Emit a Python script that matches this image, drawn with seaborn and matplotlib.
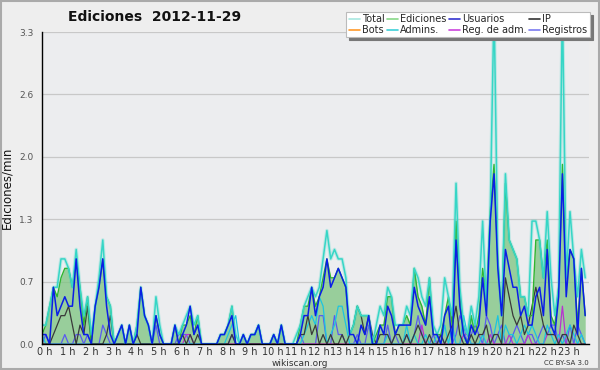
import numpy as np
import pandas as pd
import matplotlib
matplotlib.use("Agg")
import matplotlib.pyplot as plt
import matplotlib.transforms as mtransforms
from matplotlib.lines import Line2D
import seaborn as sns

# Ediciones por intervalo de 10 minutos (144 intervalos, 2012-11-29)
total_10min = [
    2, 2, 4, 6, 6, 9,   9, 8, 6, 10, 6, 3,   5, 1, 4, 7, 11, 5,   4, 0, 1, 2, 0, 2,
    0, 2, 6, 3, 2, 0,   5, 2, 0, 0, 0, 2,   1, 2, 3, 4, 2, 3,   0, 0, 0, 0, 0, 1,
    1, 2, 4, 1, 0, 1,   0, 1, 1, 2, 0, 0,   0, 1, 0, 2, 0, 0,   0, 1, 2, 4, 5, 6,
    5, 6, 9, 12, 9, 10,  9, 9, 7, 1, 2, 4,   3, 3, 3, 0, 2, 4,   3, 6, 5, 2, 2, 2,
    4, 3, 8, 7, 5, 4,   7, 2, 1, 2, 7, 5,   3, 17, 6, 2, 1, 4,   2, 5, 13, 4, 14, 36,
    9, 3, 18, 11, 10, 9,  5, 5, 3, 13, 13, 11,  7, 14, 7, 3, 6, 36,  7, 14, 9, 5, 10, 7,
]
ediciones_10min = [
    1, 2, 4, 6, 5, 7,   8, 8, 6, 9, 6, 2,   5, 0, 4, 6, 9, 5,   4, 0, 1, 2, 0, 2,
    0, 2, 6, 3, 2, 0,   3, 1, 0, 0, 0, 2,   0, 2, 2, 3, 1, 3,   0, 0, 0, 0, 0, 1,
    1, 2, 4, 0, 0, 1,   0, 1, 1, 2, 0, 0,   0, 1, 0, 2, 0, 0,   0, 0, 2, 4, 4, 6,
    4, 5, 7, 9, 7, 7,   8, 7, 6, 1, 2, 4,   3, 3, 3, 0, 1, 2,   2, 5, 5, 1, 2, 2,
    3, 2, 8, 5, 4, 2,   7, 1, 1, 1, 3, 5,   2, 13, 5, 1, 0, 3,   1, 3, 8, 5, 14, 19,
    9, 3, 17, 11, 10, 9,  5, 5, 3, 3, 11, 11,  7, 11, 3, 2, 6, 19,  7, 10, 9, 2, 8, 3,
]
usuarios_10min = [
    1, 1, 0, 6, 3, 4,   5, 4, 4, 9, 4, 1,   1, 0, 4, 6, 9, 4,   1, 0, 1, 2, 0, 2,
    0, 1, 6, 3, 2, 0,   3, 1, 0, 0, 0, 2,   0, 1, 2, 4, 1, 2,   0, 0, 0, 0, 0, 1,
    1, 2, 3, 0, 0, 1,   0, 1, 1, 2, 0, 0,   0, 1, 0, 2, 0, 0,   0, 0, 1, 3, 3, 6,
    3, 5, 6, 9, 6, 7,   8, 7, 6, 1, 1, 0,   2, 1, 3, 0, 0, 2,   1, 4, 3, 1, 2, 2,
    2, 2, 6, 4, 3, 2,   5, 1, 1, 0, 3, 4,   0, 11, 4, 1, 0, 2,   1, 2, 7, 3, 13, 18,
    8, 3, 10, 8, 6, 6,  3, 4, 2, 2, 5, 6,   3, 10, 2, 1, 5, 18,  5, 10, 9, 1, 8, 3,
]
ip_10min = [
    0, 0, 0, 1, 2, 3,   3, 4, 2, 0, 2, 1,   4, 0, 0, 0, 0, 1,   3, 0, 0, 0, 0, 0,
    0, 1, 0, 0, 0, 0,   0, 0, 0, 0, 0, 0,   0, 1, 0, 1, 0, 1,   0, 0, 0, 0, 0, 0,
    0, 0, 1, 0, 0, 0,   0, 0, 0, 0, 0, 0,   0, 0, 0, 0, 0, 0,   0, 0, 1, 1, 3, 1,
    2, 0, 1, 0, 1, 0,   0, 1, 0, 1, 2, 4,   3, 1, 3, 1, 0, 1,   1, 1, 0, 1, 1, 0,
    1, 0, 1, 2, 1, 0,   1, 0, 0, 1, 0, 1,   2, 4, 1, 0, 0, 1,   0, 1, 1, 2, 0, 1,
    1, 0, 7, 5, 3, 2,   3, 1, 2, 4, 6, 4,   2, 1, 1, 1, 0, 1,   1, 0, 2, 1, 0, 0,
]
bots_10min = [
    0, 0, 0, 0, 0, 0,   0, 0, 0, 0, 0, 0,   0, 0, 0, 0, 0, 0,   0, 0, 0, 0, 0, 0,
    0, 0, 0, 0, 0, 0,   0, 0, 0, 0, 0, 0,   0, 0, 0, 0, 0, 0,   0, 0, 0, 0, 0, 0,
    0, 0, 0, 0, 0, 0,   0, 0, 0, 0, 0, 0,   0, 0, 0, 0, 0, 0,   0, 0, 0, 0, 0, 0,
    0, 0, 0, 0, 0, 0,   0, 0, 0, 0, 0, 0,   0, 0, 0, 0, 0, 0,   0, 0, 0, 0, 0, 0,
    0, 0, 0, 0, 0, 0,   0, 0, 0, 0, 0, 0,   0, 0, 0, 0, 0, 0,   0, 0, 0, 0, 0, 0,
    0, 0, 0, 0, 0, 0,   0, 0, 0, 0, 0, 0,   0, 0, 0, 0, 0, 0,   0, 0, 0, 0, 0, 0,
]
admins_10min = [
    1, 0, 0, 0, 0, 0,   0, 0, 0, 0, 0, 0,   0, 0, 0, 0, 0, 0,   0, 0, 0, 0, 0, 0,
    0, 0, 0, 0, 0, 0,   0, 0, 0, 0, 0, 0,   0, 0, 0, 0, 0, 0,   0, 0, 0, 0, 0, 0,
    0, 1, 2, 3, 0, 0,   0, 1, 1, 2, 0, 0,   0, 1, 0, 2, 0, 0,   0, 0, 0, 1, 2, 3,
    2, 5, 4, 0, 1, 2,   4, 4, 2, 0, 0, 0,   0, 0, 0, 0, 0, 0,   0, 1, 0, 0, 0, 0,
    2, 0, 1, 0, 0, 1,   0, 0, 1, 0, 2, 0,   2, 0, 0, 3, 1, 0,   0, 0, 1, 0, 0, 1,
    3, 0, 2, 1, 1, 0,   1, 2, 1, 2, 1, 0,   0, 2, 1, 0, 1, 0,   1, 2, 1, 0, 1, 0,
]
reg_adm_10min = [
    0, 0, 0, 0, 0, 0,   0, 0, 0, 0, 0, 0,   0, 0, 0, 0, 0, 0,   0, 0, 0, 0, 0, 0,
    0, 0, 0, 0, 0, 0,   0, 0, 0, 0, 0, 0,   0, 0, 1, 1, 0, 0,   0, 0, 0, 0, 0, 0,
    0, 0, 0, 0, 0, 0,   0, 0, 0, 0, 0, 0,   0, 0, 0, 0, 0, 0,   0, 0, 0, 0, 0, 0,
    0, 0, 0, 0, 0, 0,   0, 0, 0, 0, 0, 0,   0, 0, 0, 0, 0, 0,   0, 0, 0, 0, 0, 0,
    0, 0, 0, 0, 2, 0,   0, 0, 0, 0, 0, 0,   0, 0, 0, 1, 1, 0,   0, 0, 0, 0, 1, 0,
    0, 0, 0, 1, 0, 0,   0, 0, 1, 0, 0, 0,   0, 1, 1, 1, 0, 4,   0, 0, 0, 0, 0, 0,
]
registros_10min = [
    0, 1, 0, 0, 0, 0,   1, 0, 0, 1, 1, 0,   1, 0, 0, 0, 2, 1,   0, 0, 0, 0, 0, 0,
    0, 0, 0, 0, 0, 0,   2, 0, 0, 0, 0, 0,   1, 1, 1, 0, 0, 0,   0, 0, 0, 0, 0, 0,
    0, 0, 1, 0, 0, 0,   0, 0, 0, 0, 0, 0,   0, 0, 0, 0, 0, 0,   0, 0, 1, 0, 0, 0,
    0, 3, 3, 0, 0, 3,   1, 1, 0, 0, 0, 1,   0, 0, 2, 0, 0, 0,   0, 2, 0, 1, 0, 0,
    1, 0, 1, 3, 1, 0,   0, 1, 0, 1, 0, 0,   0, 1, 3, 2, 0, 1,   2, 1, 0, 3, 2, 0,
    1, 2, 0, 0, 1, 2,   1, 0, 1, 1, 0, 1,   2, 1, 2, 2, 0, 1,   0, 2, 0, 2, 1, 0,
]

hour_labels = [f"{h} h" for h in range(24)]
ytick_labels = ["0.0", "0.7", "1.3", "2.0", "2.6", "3.3"]

# (etiqueta, datos, color en el grafico, grosor, color en la leyenda)
series = [
    ("Total", total_10min, "#36d6c6", 1.1, "#a8e8e0"),
    ("Ediciones", ediciones_10min, "#2fb52f", 1.0, "#88d888"),
    ("Usuarios", usuarios_10min, "#0a1ee6", 1.1, "#3434d0"),
    ("IP", ip_10min, "#3a3a3a", 0.9, "#333333"),
    ("Bots", bots_10min, "#ff9a2a", 0.9, "#ff9a2a"),
    ("Admins.", admins_10min, "#1cc4e0", 0.9, "#3ccfd8"),
    ("Reg. de adm.", reg_adm_10min, "#b832d0", 0.9, "#cc44dd"),
    ("Registros", registros_10min, "#5a5af0", 0.9, "#7a7af0"),
]

x = np.arange(len(total_10min))
df = pd.DataFrame({name: np.array(vals) / 10.0 for name, vals, *_ in series})
df["slot"] = x

sns.set_style("white")
plt.rcParams["font.family"] = ["DejaVu Sans"]

fig = plt.figure(figsize=(6.0, 3.7), dpi=100, facecolor="#eeeeee")
ax = fig.add_axes([42 / 600, 26 / 370, 547 / 600, 312 / 370])
ax.set_facecolor("#ecedef")

# relleno de ediciones
ax.fill_between(df["slot"], 0, df["Ediciones"], color="#7cc47f", alpha=0.75, lw=0, zorder=2)

draw_order = ["Registros", "Reg. de adm.", "Bots", "Admins.", "IP", "Ediciones", "Total", "Usuarios"]
style = {name: (c, lw) for name, _, c, lw, _ in series}
for z, name in enumerate(draw_order):
    c, lw = style[name]
    if name == "Total":
        sns.lineplot(data=df, x="slot", y=name, ax=ax, color=c, lw=2.6, alpha=0.25, zorder=3 + z)
    sns.lineplot(data=df, x="slot", y=name, ax=ax, color=c, lw=lw, zorder=3 + z)

ax.set_xlim(0, 144)
ax.set_ylim(0, 3.3)
yticks = np.linspace(0, 3.3, 6)
ax.set_yticks(yticks)
ax.set_yticklabels(ytick_labels)
ax.set_yticks(np.linspace(0, 3.3, 21), minor=True)
ax.set_xticks(np.arange(0, 144, 6))
ax.set_xticklabels(hour_labels)
ax.set_xticks(np.arange(0, 145, 1), minor=True)
ax.grid(axis="y", which="major", color="#c8c8c8", lw=0.9, zorder=1)
ax.set_axisbelow(True)

for side in ["top", "right"]:
    ax.spines[side].set_visible(False)
for side in ["left", "bottom"]:
    ax.spines[side].set_color("black")
    ax.spines[side].set_linewidth(1.0)
    ax.spines[side].set_zorder(20)

ax.tick_params(axis="y", which="major", length=5, width=0.8, color="black",
               labelsize=6.5, labelcolor="#555555", pad=1)
ax.tick_params(axis="y", which="minor", length=2.5, width=0.8, color="black")
ax.tick_params(axis="x", which="major", length=2.5, width=0.9, color="black",
               labelsize=7, labelcolor="#333333", pad=0)
ax.tick_params(axis="x", which="minor", length=2.5, width=0.9, color="black")
offset = mtransforms.ScaledTranslation(3 / 100, 0, fig.dpi_scale_trans)
for lab in ax.get_xticklabels():
    lab.set_transform(lab.get_transform() + offset)

ax.set_xlabel("")
ax.set_ylabel("Ediciones/min", fontsize=8.5, color="#111111", labelpad=4)

fig.text(155 / 600, 1 - 17 / 370, "Ediciones  2012-11-29", ha="center", va="center",
         fontsize=10, fontweight="bold", color="#111111")
fig.text(300 / 600, 1 - 363 / 370, "wikiscan.org", ha="center", va="center",
         fontsize=6.5, color="#333333")
fig.text(589 / 600, 1 - 363 / 370, "CC BY-SA 3.0", ha="right", va="center",
         fontsize=5, color="#333333")

# leyenda (4 columnas, se llena por columnas)
legend_order = ["Total", "Bots", "Ediciones", "Admins.", "Usuarios", "Reg. de adm.", "IP", "Registros"]
legend_color = {name: lc for name, _, _, _, lc in series}
handles = [Line2D([], [], color=legend_color[n], lw=1.2) for n in legend_order]
leg = fig.legend(handles, legend_order, ncol=4, loc="upper right",
                 bbox_to_anchor=(590 / 600, 1 - 12 / 370), fontsize=7,
                 frameon=True, fancybox=False, shadow={"color": "#777777", "alpha": 1},
                 handlelength=1.1, handletextpad=0.25, columnspacing=0.25,
                 labelspacing=0.05, borderpad=0.25, borderaxespad=0)
leg.get_frame().set_facecolor("white")
leg.get_frame().set_edgecolor("#bbbbbb")
leg.get_frame().set_linewidth(0.8)

# borde exterior
fig.patches.append(plt.Rectangle((0.002, 0.003), 0.996, 0.994, transform=fig.transFigure,
                                 fill=False, edgecolor="#aaaaaa", lw=1.5))

fig.savefig("out.png", dpi=100, facecolor=fig.get_facecolor())
